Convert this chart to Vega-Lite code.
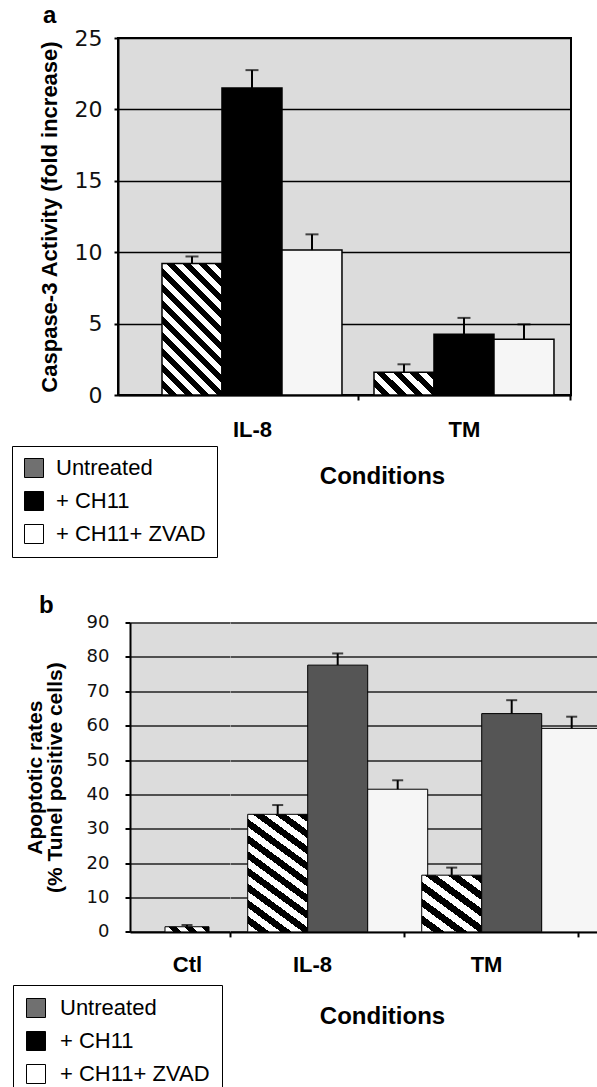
{
  "$schema": "https://vega.github.io/schema/vega-lite/v6.json",
  "autosize": {"type": "pad"},
  "padding": {"left": 10, "top": 3, "right": 0, "bottom": 0},
  "background": "white",
  "bounds": "flush",
  "spacing": 227.5,
  "resolve": {"scale": {"fill": "independent"}},
  "config": {
    "font": "Liberation Sans",
    "view": {"stroke": null},
    "axis": {"labelColor": "black", "titleColor": "black", "domainColor": "black", "tickColor": "black"}
  },
  "datasets": {
    "a": [
      {"cond": "IL-8", "trt": "Untreated", "mean": 9.2, "upper": 9.7},
      {"cond": "IL-8", "trt": "+ CH11", "mean": 21.5, "upper": 22.75},
      {"cond": "IL-8", "trt": "+ CH11+ ZVAD", "mean": 10.15, "upper": 11.25},
      {"cond": "TM", "trt": "Untreated", "mean": 1.6, "upper": 2.15},
      {"cond": "TM", "trt": "+ CH11", "mean": 4.25, "upper": 5.4},
      {"cond": "TM", "trt": "+ CH11+ ZVAD", "mean": 3.9, "upper": 4.95}
    ],
    "b_ctl": [
      {"cond": "Ctl", "trt": "Untreated", "mean": 1.5, "upper": 2.0}
    ],
    "b_main": [
      {"cond": "IL-8", "trt": "Untreated", "mean": 34.2, "upper": 36.9},
      {"cond": "IL-8", "trt": "+ CH11", "mean": 77.6, "upper": 81.0},
      {"cond": "IL-8", "trt": "+ CH11+ ZVAD", "mean": 41.5, "upper": 44.1},
      {"cond": "TM", "trt": "Untreated", "mean": 16.5, "upper": 18.7},
      {"cond": "TM", "trt": "+ CH11", "mean": 63.5, "upper": 67.4},
      {"cond": "TM", "trt": "+ CH11+ ZVAD", "mean": 59.2, "upper": 62.6}
    ]
  },
  "vconcat": [
    {
      "width": 453,
      "height": 357,
      "title": {"text": "a", "anchor": "start", "frame": "group", "dx": -75, "offset": -20, "baseline": "alphabetic", "fontSize": 24, "fontWeight": "bold", "font": "Liberation Sans", "color": "black"},
      "view": {"stroke": "black", "strokeWidth": 2, "fill": "#dcdcdc"},
      "data": {"name": "a"},
      "encoding": {
        "x": {
          "field": "cond", "type": "nominal", "sort": ["IL-8", "TM"],
          "scale": {"paddingInner": 0.151, "paddingOuter": 0.1439, "align": 0.721},
          "axis": {
            "labelAngle": 0, "labelFont": "Liberation Sans", "labelFontSize": 22, "labelFontWeight": "bold",
            "labelBaseline": "alphabetic", "labelPadding": 36, "tickSize": 5, "tickWidth": 2,
            "tickOffset": 106, "labelOffset": -106, "domainWidth": 2, "grid": false,
            "title": "Conditions", "titleFont": "Liberation Sans", "titleFontSize": 24, "titleFontWeight": "bold",
            "titleX": 264, "titleY": 88, "titleAlign": "center", "titleBaseline": "alphabetic"
          }
        },
        "xOffset": {"field": "trt", "type": "nominal", "sort": ["Untreated", "+ CH11", "+ CH11+ ZVAD"], "scale": {"paddingInner": 0, "paddingOuter": 0}}
      },
      "layer": [
        {
          "mark": {"type": "bar", "stroke": "black", "strokeWidth": 1.5},
          "encoding": {
            "y": {
              "field": "mean", "type": "quantitative",
              "scale": {"domain": [0, 25], "nice": false},
              "axis": {"values": [0, 5, 10, 15, 20, 25], "labelOverlap": false, "title": "Caspase-3 Activity (fold increase)", "titleFont": "Liberation Sans", "titleFontSize": 22, "titleFontWeight": "bold", "titleX": -69, "titleY": 178.5, "titleAngle": 270, "titleAlign": "center", "titleBaseline": "middle", "labelFont": "DejaVu Sans", "labelFontSize": 22, "labelPadding": 12, "labelColor": "#111", "tickSize": 4, "tickWidth": 2, "domainWidth": 2, "grid": true, "gridColor": "black", "gridWidth": 1.5, "gridOpacity": 1}
            },
            "fill": {
              "condition": [
                {"test": "datum.cond === 'IL-8' && datum.trt === 'Untreated'", "value": {"gradient": "linear", "x1": 0, "y1": 1, "x2": 0.549, "y2": -0.205, "stops": [
                  {"offset": 0, "color": "white"},
                  {"offset": 0.0417, "color": "white"}, {"offset": 0.0417, "color": "black"}, {"offset": 0.0833, "color": "black"}, {"offset": 0.0833, "color": "white"},
                  {"offset": 0.125, "color": "white"}, {"offset": 0.125, "color": "black"}, {"offset": 0.1667, "color": "black"}, {"offset": 0.1667, "color": "white"},
                  {"offset": 0.2083, "color": "white"}, {"offset": 0.2083, "color": "black"}, {"offset": 0.25, "color": "black"}, {"offset": 0.25, "color": "white"},
                  {"offset": 0.2917, "color": "white"}, {"offset": 0.2917, "color": "black"}, {"offset": 0.3333, "color": "black"}, {"offset": 0.3333, "color": "white"},
                  {"offset": 0.375, "color": "white"}, {"offset": 0.375, "color": "black"}, {"offset": 0.4167, "color": "black"}, {"offset": 0.4167, "color": "white"},
                  {"offset": 0.4583, "color": "white"}, {"offset": 0.4583, "color": "black"}, {"offset": 0.5, "color": "black"}, {"offset": 0.5, "color": "white"},
                  {"offset": 0.5417, "color": "white"}, {"offset": 0.5417, "color": "black"}, {"offset": 0.5833, "color": "black"}, {"offset": 0.5833, "color": "white"},
                  {"offset": 0.625, "color": "white"}, {"offset": 0.625, "color": "black"}, {"offset": 0.6667, "color": "black"}, {"offset": 0.6667, "color": "white"},
                  {"offset": 0.7083, "color": "white"}, {"offset": 0.7083, "color": "black"}, {"offset": 0.75, "color": "black"}, {"offset": 0.75, "color": "white"},
                  {"offset": 0.7917, "color": "white"}, {"offset": 0.7917, "color": "black"}, {"offset": 0.8333, "color": "black"}, {"offset": 0.8333, "color": "white"},
                  {"offset": 0.875, "color": "white"}, {"offset": 0.875, "color": "black"}, {"offset": 0.9167, "color": "black"}, {"offset": 0.9167, "color": "white"},
                  {"offset": 0.9583, "color": "white"}, {"offset": 0.9583, "color": "black"}, {"offset": 1, "color": "black"}
                ]}},
                {"test": "datum.cond === 'TM' && datum.trt === 'Untreated'", "value": {"gradient": "linear", "x1": 0, "y1": 1, "x2": 1.206, "y2": 0.532, "stops": [
                  {"offset": 0, "color": "white"},
                  {"offset": 0.1, "color": "white"}, {"offset": 0.1, "color": "black"}, {"offset": 0.2, "color": "black"}, {"offset": 0.2, "color": "white"},
                  {"offset": 0.3, "color": "white"}, {"offset": 0.3, "color": "black"}, {"offset": 0.4, "color": "black"}, {"offset": 0.4, "color": "white"},
                  {"offset": 0.5, "color": "white"}, {"offset": 0.5, "color": "black"}, {"offset": 0.6, "color": "black"}, {"offset": 0.6, "color": "white"},
                  {"offset": 0.7, "color": "white"}, {"offset": 0.7, "color": "black"}, {"offset": 0.8, "color": "black"}, {"offset": 0.8, "color": "white"},
                  {"offset": 0.9, "color": "white"}, {"offset": 0.9, "color": "black"}, {"offset": 1, "color": "black"}
                ]}},
                {"test": "datum.trt === '+ CH11'", "value": "black"}
              ],
              "value": "#f6f6f6"
            }
          }
        },
        {
          "mark": {"type": "rule", "strokeWidth": 2, "color": "black"},
          "encoding": {
            "y": {
              "field": "mean", "type": "quantitative",
              "scale": {"domain": [0, 25], "nice": false},
              "axis": {"values": [0, 5, 10, 15, 20, 25], "labelOverlap": false, "title": "Caspase-3 Activity (fold increase)", "titleFont": "Liberation Sans", "titleFontSize": 22, "titleFontWeight": "bold", "titleX": -69, "titleY": 178.5, "titleAngle": 270, "titleAlign": "center", "titleBaseline": "middle", "labelFont": "DejaVu Sans", "labelFontSize": 22, "labelPadding": 12, "labelColor": "#111", "tickSize": 4, "tickWidth": 2, "domainWidth": 2, "grid": true, "gridColor": "black", "gridWidth": 1.5, "gridOpacity": 1}
            },
            "y2": {"field": "upper"}
          }
        },
        {
          "mark": {"type": "tick", "size": 13, "thickness": 2, "color": "black"},
          "encoding": {
            "y": {
              "field": "upper", "type": "quantitative",
              "scale": {"domain": [0, 25], "nice": false},
              "axis": {"values": [0, 5, 10, 15, 20, 25], "labelOverlap": false, "title": "Caspase-3 Activity (fold increase)", "titleFont": "Liberation Sans", "titleFontSize": 22, "titleFontWeight": "bold", "titleX": -69, "titleY": 178.5, "titleAngle": 270, "titleAlign": "center", "titleBaseline": "middle", "labelFont": "DejaVu Sans", "labelFontSize": 22, "labelPadding": 12, "labelColor": "#111", "tickSize": 4, "tickWidth": 2, "domainWidth": 2, "grid": true, "gridColor": "black", "gridWidth": 1.5, "gridOpacity": 1}
            }
          }
        },
        {
          "mark": {"type": "point", "filled": true, "size": 0, "opacity": 0},
          "encoding": {
            "y": {
              "field": "mean", "type": "quantitative",
              "scale": {"domain": [0, 25], "nice": false},
              "axis": {"values": [0, 5, 10, 15, 20, 25], "labelOverlap": false, "title": "Caspase-3 Activity (fold increase)", "titleFont": "Liberation Sans", "titleFontSize": 22, "titleFontWeight": "bold", "titleX": -69, "titleY": 178.5, "titleAngle": 270, "titleAlign": "center", "titleBaseline": "middle", "labelFont": "DejaVu Sans", "labelFontSize": 22, "labelPadding": 12, "labelColor": "#111", "tickSize": 4, "tickWidth": 2, "domainWidth": 2, "grid": true, "gridColor": "black", "gridWidth": 1.5, "gridOpacity": 1}
            },
            "fill": {
              "field": "trt", "type": "nominal",
              "scale": {"domain": ["Untreated", "+ CH11", "+ CH11+ ZVAD"], "range": ["#707070", "black", "white"]},
              "legend": {
                "orient": "none", "legendX": -106, "legendY": 408, "title": null,
                "symbolType": "square", "symbolSize": 361, "symbolStrokeColor": "black", "symbolStrokeWidth": 1, "symbolOpacity": 1,
                "labelFont": "Liberation Sans", "labelFontSize": 22, "labelColor": "black", "labelOffset": 11, "labelLimit": 400,
                "rowPadding": 9, "padding": 11, "strokeColor": "black", "fillColor": "white"
              }
            }
          }
        }
      ]
    },
    {
      "bounds": "flush",
      "spacing": 0,
      "resolve": {"scale": {"fill": "independent"}},
      "hconcat": [
        {
          "width": 12,
          "height": 309.4,
          "data": {"values": [{"cond": "none"}]},
          "mark": {"type": "point", "opacity": 0},
          "view": {"stroke": null, "fill": "white"}
        },
        {
          "width": 100,
          "height": 309.4,
          "title": {"text": "b", "anchor": "start", "frame": "group", "dx": -91, "offset": -23, "baseline": "alphabetic", "fontSize": 24, "fontWeight": "bold", "font": "Liberation Sans", "color": "black"},
          "view": {"stroke": null, "fill": "#dcdcdc"},
          "data": {"name": "b_ctl"},
          "encoding": {
            "x": {
              "field": "cond", "type": "nominal",
              "scale": {"paddingInner": 0, "paddingOuter": 0.636, "align": 0.625},
              "axis": {
                "labelAngle": 0, "labelFont": "Liberation Sans", "labelFontSize": 22, "labelFontWeight": "bold",
                "labelBaseline": "alphabetic", "labelPadding": 35, "tickSize": 5, "tickWidth": 2,
                "tickOffset": 43, "labelOffset": -43, "domainWidth": 2, "grid": false, "title": null
              }
            }
          },
          "layer": [
            {
              "mark": {"type": "bar", "stroke": "black", "strokeWidth": 1},
              "encoding": {
                "y": {
                  "field": "mean", "type": "quantitative",
                  "scale": {"domain": [0, 90], "nice": false},
                  "axis": {"values": [0, 10, 20, 30, 40, 50, 60, 70, 80, 90], "tickCount": 10, "labelOverlap": false, "labelBound": false, "title": ["Apoptotic rates", "(% Tunel positive cells)"], "titleFont": "Liberation Sans", "titleFontSize": 21, "titleFontWeight": "bold", "titleLineHeight": 20, "titleX": -95, "titleY": 154.7, "titleAngle": 270, "titleAlign": "center", "titleBaseline": "middle", "labelFont": "DejaVu Sans", "labelFontSize": 18, "labelPadding": 16, "labelColor": "#111", "tickSize": 5, "tickWidth": 2, "domainWidth": 2, "grid": true, "gridColor": "#222", "gridWidth": 1.3, "gridOpacity": 1}
                },
                "fill": {
                  "value": {"gradient": "linear", "x1": 0, "y1": 1, "x2": 1.103, "y2": 0.87, "stops": [
                    {"offset": 0, "color": "white"},
                    {"offset": 0.1667, "color": "white"}, {"offset": 0.1667, "color": "black"}, {"offset": 0.3333, "color": "black"}, {"offset": 0.3333, "color": "white"},
                    {"offset": 0.5, "color": "white"}, {"offset": 0.5, "color": "black"}, {"offset": 0.6667, "color": "black"}, {"offset": 0.6667, "color": "white"},
                    {"offset": 0.8333, "color": "white"}, {"offset": 0.8333, "color": "black"}, {"offset": 1, "color": "black"}
                  ]}
                }
              }
            },
            {
              "mark": {"type": "rule", "strokeWidth": 2, "color": "black"},
              "encoding": {
                "y": {
                  "field": "mean", "type": "quantitative",
                  "scale": {"domain": [0, 90], "nice": false},
                  "axis": {"values": [0, 10, 20, 30, 40, 50, 60, 70, 80, 90], "tickCount": 10, "labelOverlap": false, "labelBound": false, "title": ["Apoptotic rates", "(% Tunel positive cells)"], "titleFont": "Liberation Sans", "titleFontSize": 21, "titleFontWeight": "bold", "titleLineHeight": 20, "titleX": -95, "titleY": 154.7, "titleAngle": 270, "titleAlign": "center", "titleBaseline": "middle", "labelFont": "DejaVu Sans", "labelFontSize": 18, "labelPadding": 16, "labelColor": "#111", "tickSize": 5, "tickWidth": 2, "domainWidth": 2, "grid": true, "gridColor": "#222", "gridWidth": 1.3, "gridOpacity": 1}
                },
                "y2": {"field": "upper"}
              }
            },
            {
              "mark": {"type": "tick", "size": 11, "thickness": 2, "color": "black"},
              "encoding": {
                "y": {
                  "field": "upper", "type": "quantitative",
                  "scale": {"domain": [0, 90], "nice": false},
                  "axis": {"values": [0, 10, 20, 30, 40, 50, 60, 70, 80, 90], "tickCount": 10, "labelOverlap": false, "labelBound": false, "title": ["Apoptotic rates", "(% Tunel positive cells)"], "titleFont": "Liberation Sans", "titleFontSize": 21, "titleFontWeight": "bold", "titleLineHeight": 20, "titleX": -95, "titleY": 154.7, "titleAngle": 270, "titleAlign": "center", "titleBaseline": "middle", "labelFont": "DejaVu Sans", "labelFontSize": 18, "labelPadding": 16, "labelColor": "#111", "tickSize": 5, "tickWidth": 2, "domainWidth": 2, "grid": true, "gridColor": "#222", "gridWidth": 1.3, "gridOpacity": 1}
                }
              }
            },
            {
              "mark": {"type": "point", "filled": true, "size": 0, "opacity": 0},
              "encoding": {
                "y": {
                  "field": "mean", "type": "quantitative",
                  "scale": {"domain": [0, 90], "nice": false},
                  "axis": {"values": [0, 10, 20, 30, 40, 50, 60, 70, 80, 90], "tickCount": 10, "labelOverlap": false, "labelBound": false, "title": ["Apoptotic rates", "(% Tunel positive cells)"], "titleFont": "Liberation Sans", "titleFontSize": 21, "titleFontWeight": "bold", "titleLineHeight": 20, "titleX": -95, "titleY": 154.7, "titleAngle": 270, "titleAlign": "center", "titleBaseline": "middle", "labelFont": "DejaVu Sans", "labelFontSize": 18, "labelPadding": 16, "labelColor": "#111", "tickSize": 5, "tickWidth": 2, "domainWidth": 2, "grid": true, "gridColor": "#222", "gridWidth": 1.3, "gridOpacity": 1}
                },
                "fill": {
                  "field": "trt", "type": "nominal",
                  "scale": {"domain": ["Untreated", "+ CH11", "+ CH11+ ZVAD"], "range": ["#707070", "black", "white"]},
                  "legend": {
                    "orient": "none", "legendX": -117, "legendY": 362.5, "title": null,
                    "symbolType": "square", "symbolSize": 361, "symbolStrokeColor": "black", "symbolStrokeWidth": 1, "symbolOpacity": 1,
                    "labelFont": "Liberation Sans", "labelFontSize": 22, "labelColor": "black", "labelOffset": 13, "labelLimit": 400,
                    "rowPadding": 9, "padding": 12, "strokeColor": "black", "fillColor": "white"
                  }
                }
              }
            }
          ]
        },
        {
          "width": 369,
          "height": 309.4,
          "view": {"stroke": null, "fill": "#dcdcdc"},
          "data": {"name": "b_main"},
          "encoding": {
            "x": {
              "field": "cond", "type": "nominal", "sort": ["IL-8", "TM"],
              "scale": {"paddingInner": 0.2414, "paddingOuter": 0.181, "align": 0.281},
              "axis": {
                "labelAngle": 0, "labelFont": "Liberation Sans", "labelFontSize": 22, "labelFontWeight": "bold",
                "labelBaseline": "alphabetic", "labelPadding": 35, "tickSize": 5, "tickWidth": 2,
                "tickOffset": 90.3, "labelOffset": -92, "domainWidth": 2, "grid": false,
                "title": "Conditions", "titleFont": "Liberation Sans", "titleFontSize": 24, "titleFontWeight": "bold",
                "titleX": 152, "titleY": 91.3, "titleAlign": "center", "titleBaseline": "alphabetic"
              }
            },
            "xOffset": {"field": "trt", "type": "nominal", "sort": ["Untreated", "+ CH11", "+ CH11+ ZVAD"], "scale": {"paddingInner": 0, "paddingOuter": 0}}
          },
          "layer": [
            {
              "mark": {"type": "bar", "stroke": "black", "strokeWidth": 1},
              "encoding": {
                "y": {
                  "field": "mean", "type": "quantitative",
                  "scale": {"domain": [0, 90], "nice": false},
                  "axis": {"values": [0, 10, 20, 30, 40, 50, 60, 70, 80, 90], "tickCount": 10, "labels": false, "ticks": false, "domain": false, "title": null, "grid": true, "gridColor": "#222", "gridWidth": 1.3, "gridOpacity": 1}
                },
                "fill": {
                  "condition": [
                    {"test": "datum.cond === 'IL-8' && datum.trt === 'Untreated'", "value": {"gradient": "linear", "x1": 0, "y1": 1, "x2": 0.451, "y2": -0.206, "stops": [
                      {"offset": 0, "color": "white"},
                      {"offset": 0.05, "color": "white"}, {"offset": 0.05, "color": "black"}, {"offset": 0.1, "color": "black"}, {"offset": 0.1, "color": "white"},
                      {"offset": 0.15, "color": "white"}, {"offset": 0.15, "color": "black"}, {"offset": 0.2, "color": "black"}, {"offset": 0.2, "color": "white"},
                      {"offset": 0.25, "color": "white"}, {"offset": 0.25, "color": "black"}, {"offset": 0.3, "color": "black"}, {"offset": 0.3, "color": "white"},
                      {"offset": 0.35, "color": "white"}, {"offset": 0.35, "color": "black"}, {"offset": 0.4, "color": "black"}, {"offset": 0.4, "color": "white"},
                      {"offset": 0.45, "color": "white"}, {"offset": 0.45, "color": "black"}, {"offset": 0.5, "color": "black"}, {"offset": 0.5, "color": "white"},
                      {"offset": 0.55, "color": "white"}, {"offset": 0.55, "color": "black"}, {"offset": 0.6, "color": "black"}, {"offset": 0.6, "color": "white"},
                      {"offset": 0.65, "color": "white"}, {"offset": 0.65, "color": "black"}, {"offset": 0.7, "color": "black"}, {"offset": 0.7, "color": "white"},
                      {"offset": 0.75, "color": "white"}, {"offset": 0.75, "color": "black"}, {"offset": 0.8, "color": "black"}, {"offset": 0.8, "color": "white"},
                      {"offset": 0.85, "color": "white"}, {"offset": 0.85, "color": "black"}, {"offset": 0.9, "color": "black"}, {"offset": 0.9, "color": "white"},
                      {"offset": 0.95, "color": "white"}, {"offset": 0.95, "color": "black"}, {"offset": 1, "color": "black"}
                    ]}},
                    {"test": "datum.cond === 'TM' && datum.trt === 'Untreated'", "value": {"gradient": "linear", "x1": 0, "y1": 1, "x2": 0.86, "y2": -0.109, "stops": [
                      {"offset": 0, "color": "white"},
                      {"offset": 0.0833, "color": "white"}, {"offset": 0.0833, "color": "black"}, {"offset": 0.1667, "color": "black"}, {"offset": 0.1667, "color": "white"},
                      {"offset": 0.25, "color": "white"}, {"offset": 0.25, "color": "black"}, {"offset": 0.3333, "color": "black"}, {"offset": 0.3333, "color": "white"},
                      {"offset": 0.4167, "color": "white"}, {"offset": 0.4167, "color": "black"}, {"offset": 0.5, "color": "black"}, {"offset": 0.5, "color": "white"},
                      {"offset": 0.5833, "color": "white"}, {"offset": 0.5833, "color": "black"}, {"offset": 0.6667, "color": "black"}, {"offset": 0.6667, "color": "white"},
                      {"offset": 0.75, "color": "white"}, {"offset": 0.75, "color": "black"}, {"offset": 0.8333, "color": "black"}, {"offset": 0.8333, "color": "white"},
                      {"offset": 0.9167, "color": "white"}, {"offset": 0.9167, "color": "black"}, {"offset": 1, "color": "black"}
                    ]}},
                    {"test": "datum.trt === '+ CH11'", "value": "#555555"}
                  ],
                  "value": "#f6f6f6"
                }
              }
            },
            {
              "mark": {"type": "rule", "strokeWidth": 2, "color": "black"},
              "encoding": {
                "y": {
                  "field": "mean", "type": "quantitative",
                  "scale": {"domain": [0, 90], "nice": false},
                  "axis": {"values": [0, 10, 20, 30, 40, 50, 60, 70, 80, 90], "tickCount": 10, "labels": false, "ticks": false, "domain": false, "title": null, "grid": true, "gridColor": "#222", "gridWidth": 1.3, "gridOpacity": 1}
                },
                "y2": {"field": "upper"}
              }
            },
            {
              "mark": {"type": "tick", "size": 11, "thickness": 2, "color": "black"},
              "encoding": {
                "y": {
                  "field": "upper", "type": "quantitative",
                  "scale": {"domain": [0, 90], "nice": false},
                  "axis": {"values": [0, 10, 20, 30, 40, 50, 60, 70, 80, 90], "tickCount": 10, "labels": false, "ticks": false, "domain": false, "title": null, "grid": true, "gridColor": "#222", "gridWidth": 1.3, "gridOpacity": 1}
                }
              }
            }
          ]
        }
      ]
    }
  ]
}
